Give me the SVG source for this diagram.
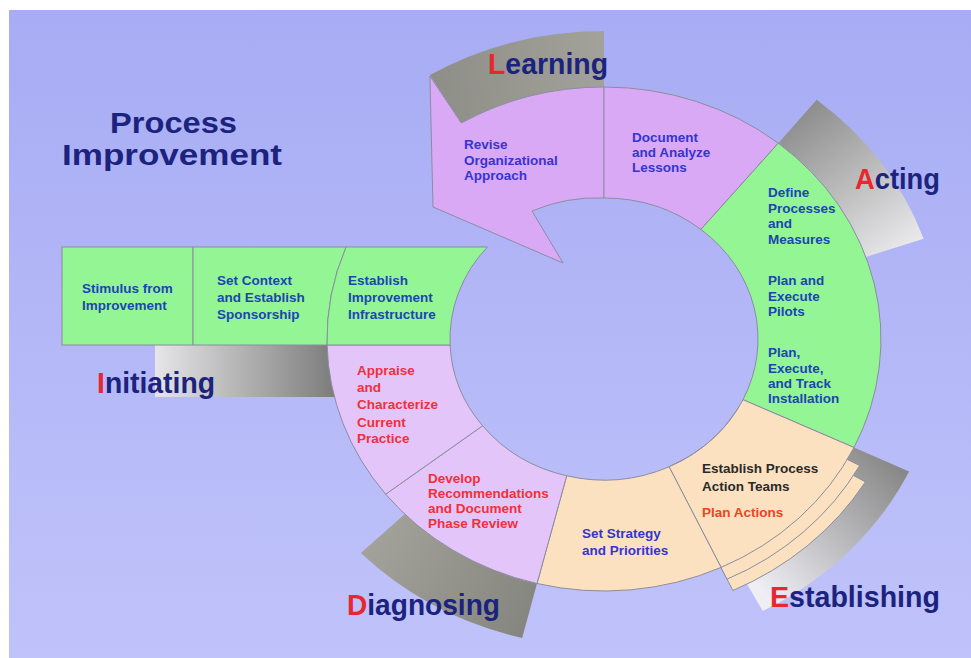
<svg xmlns="http://www.w3.org/2000/svg" width="971" height="658" viewBox="0 0 971 658">
<defs>
<linearGradient id="bg" x1="0" y1="0" x2="0" y2="1">
<stop offset="0" stop-color="#a7acf4"/>
<stop offset="1" stop-color="#c0c3fa"/>
</linearGradient>
<linearGradient id="gLearn" gradientUnits="userSpaceOnUse" x1="430" y1="80" x2="604" y2="60">
<stop offset="0" stop-color="#8e8e88"/>
<stop offset="1" stop-color="#a2a29a"/>
</linearGradient>
<linearGradient id="gAct" gradientUnits="userSpaceOnUse" x1="800" y1="110" x2="900" y2="250">
<stop offset="0" stop-color="#8c8c8c"/>
<stop offset="1" stop-color="#e8e8ea"/>
</linearGradient>
<linearGradient id="gEst" gradientUnits="userSpaceOnUse" x1="900" y1="470" x2="770" y2="600">
<stop offset="0" stop-color="#888888"/>
<stop offset="1" stop-color="#eeeef4"/>
</linearGradient>
<linearGradient id="gDiag" gradientUnits="userSpaceOnUse" x1="370" y1="545" x2="530" y2="630">
<stop offset="0" stop-color="#a2a29a"/>
<stop offset="1" stop-color="#85857f"/>
</linearGradient>
<linearGradient id="gInit" gradientUnits="userSpaceOnUse" x1="155" y1="0" x2="335" y2="0">
<stop offset="0" stop-color="#e6e6e8"/>
<stop offset="1" stop-color="#7c7c7c"/>
</linearGradient>
</defs>
<style>
.seg{stroke:#8c8ca0;stroke-width:1;}
.pink{fill:#daa9f6;}
.lilac{fill:#e4c5f9;}
.green{fill:#93f594;}
.peach{fill:#fce1c0;}
.band{stroke:none;}
.t{font-family:"Liberation Sans",Arial,sans-serif;font-weight:bold;font-size:13.5px;}
.tb{fill:#3535d0;}
.tg{fill:#1c45b4;}
.tr{fill:#f0303a;}
.tk{fill:#2a2a2a;}
.lab{font-family:"Liberation Sans",Arial,sans-serif;font-weight:bold;font-size:30px;fill:#1b237e;}
.red{fill:#e8282e;}
</style>
<rect x="0" y="0" width="971" height="658" fill="#ffffff"/>
<rect x="9" y="10" width="962" height="648" fill="url(#bg)"/>

<g id="title">
<text class="lab" x="110" y="133" font-size="33" textLength="127" lengthAdjust="spacingAndGlyphs">Process</text>
<text class="lab" x="62" y="165" font-size="34" textLength="220" lengthAdjust="spacingAndGlyphs">Improvement</text>
</g>

<g id="bands">
<path id="band-learning" class="band" fill="url(#gLearn)" d="M461.3,123 L429.9,75 A338 308 0 0 1 604,31 L604,87 A277 252 0 0 0 461.3,123 Z"/>
<path id="band-acting" class="band" fill="url(#gAct)" d="M778.3,143.2 L816.7,99.7 A338 308 0 0 1 923.6,238.7 L865.9,256.9 A277 252 0 0 0 778.3,143.2 Z"/>
<path id="band-establishing" class="band" fill="url(#gEst)" d="M854,447.5 L909.1,471.6 A338 308 0 0 1 762.7,610.9 L734.1,561.5 A277 252 0 0 0 854,447.5 Z"/>
<path id="band-diagnosing" class="band" fill="url(#gDiag)" d="M537,583.5 L522.2,637.9 A338 308 0 0 1 360.9,553 L404.8,514.1 A277 252 0 0 0 537,583.5 Z"/>
<rect id="band-initiating" class="band" fill="url(#gInit)" x="155" y="345" width="190" height="52"/>
</g>

<g id="connectors"></g>

<g id="revise">
<path class="seg pink" d="M604,87 A277 252 0 0 0 461.3,123 L429.9,76 L433,207 L563,263 L532,211 A154 141 0 0 1 604,198 Z"/>
<text class="t tb"><tspan x="464" y="149">Revise</tspan><tspan x="464" y="164.5">Organizational</tspan><tspan x="464" y="180">Approach</tspan></text>
</g>
<g id="document">
<path class="seg pink" d="M604,87 A277 252 0 0 1 778.3,143.2 L700.9,229.4 A154 141 0 0 0 604,198 Z"/>
<text class="t tb"><tspan x="632" y="142">Document</tspan><tspan x="632" y="157">and Analyze</tspan><tspan x="632" y="172">Lessons</tspan></text>
</g>
<g id="acting">
<path class="seg green" d="M778.3,143.2 A277 252 0 0 1 854,447.5 L743,399.7 A154 141 0 0 0 700.9,229.4 Z"/>
<text class="t tg"><tspan x="768" y="197">Define</tspan><tspan x="768" y="212.5">Processes</tspan><tspan x="768" y="228">and</tspan><tspan x="768" y="243.5">Measures</tspan></text>
<text class="t tg"><tspan x="768" y="285">Plan and</tspan><tspan x="768" y="300.5">Execute</tspan><tspan x="768" y="316">Pilots</tspan></text>
<text class="t tg"><tspan x="768" y="357">Plan,</tspan><tspan x="768" y="372.5">Execute,</tspan><tspan x="768" y="388">and Track</tspan><tspan x="768" y="403">Installation</tspan></text>
</g>
<g id="establish-teams">
<path class="seg peach" d="M736,411.6 L865.4,481.9 A305 277.5 0 0 1 732.9,590.5 L669.1,466.8 A154 141 0 0 0 736,411.6 Z"/>
<path class="seg peach" d="M739.3,406.3 L859.7,465.5 A291 265 0 0 1 727,579.2 L669.1,466.8 A154 141 0 0 0 739.3,406.3 Z"/>
<path class="seg peach" d="M854,447.5 A277 252 0 0 1 721.1,567.4 L669.1,466.8 A154 141 0 0 0 743,399.7 Z"/>
<text class="t tk"><tspan x="702" y="473">Establish Process</tspan><tspan x="702" y="491">Action Teams</tspan></text>
<text class="t" x="702" y="517" fill="#ee4422">Plan Actions</text>
</g>
<g id="strategy">
<path class="seg peach" d="M721.1,567.4 A277 252 0 0 1 537,583.5 L566.7,475.8 A154 141 0 0 0 669.1,466.8 Z"/>
<text class="t tb"><tspan x="582" y="538">Set Strategy</tspan><tspan x="582" y="555">and Priorities</tspan></text>
</g>
<g id="develop">
<path class="seg lilac" d="M537,583.5 A277 252 0 0 1 385.7,494.2 L482.6,425.8 A154 141 0 0 0 566.7,475.8 Z"/>
<text class="t tr"><tspan x="428" y="483">Develop</tspan><tspan x="428" y="498">Recommendations</tspan><tspan x="428" y="513">and Document</tspan><tspan x="428" y="528">Phase Review</tspan></text>
</g>
<g id="appraise">
<path class="seg lilac" d="M385.7,494.2 A277 252 0 0 1 327.1,345 L450.1,345 A154 141 0 0 0 482.6,425.8 Z"/>
<text class="t tr"><tspan x="357" y="375">Appraise</tspan><tspan x="357" y="392">and</tspan><tspan x="357" y="409">Characterize</tspan><tspan x="357" y="427">Current</tspan><tspan x="357" y="443">Practice</tspan></text>
</g>
<g id="stimulus">
<rect class="seg green" x="62" y="247" width="131" height="98"/>
<text class="t tg"><tspan x="82" y="293">Stimulus from</tspan><tspan x="82" y="310">Improvement</tspan></text>
</g>
<g id="context">
<path class="seg green" d="M193,247 L346.1,247 A277 252 0 0 0 327.1,345 L193,345 Z"/>
<text class="t tg"><tspan x="217" y="285">Set Context</tspan><tspan x="217" y="302">and Establish</tspan><tspan x="217" y="319">Sponsorship</tspan></text>
</g>
<g id="infrastructure">
<path class="seg green" d="M346.1,247 L487.3,247 A154 141 0 0 0 450.1,345 L327.1,345 A277 252 0 0 1 346.1,247 Z"/>
<text class="t tg"><tspan x="348" y="285">Establish</tspan><tspan x="348" y="302">Improvement</tspan><tspan x="348" y="319">Infrastructure</tspan></text>
</g>

<g id="labels">
<text class="lab" x="488" y="74" textLength="120" lengthAdjust="spacingAndGlyphs"><tspan class="red">L</tspan>earning</text>
<text class="lab" x="855" y="189" textLength="85" lengthAdjust="spacingAndGlyphs"><tspan class="red">A</tspan>cting</text>
<text class="lab" x="770" y="607" textLength="170" lengthAdjust="spacingAndGlyphs"><tspan class="red">E</tspan>stablishing</text>
<text class="lab" x="347" y="615" textLength="153" lengthAdjust="spacingAndGlyphs"><tspan class="red">D</tspan>iagnosing</text>
<text class="lab" x="97" y="393" textLength="118" lengthAdjust="spacingAndGlyphs"><tspan class="red">I</tspan>nitiating</text>
</g>
</svg>
